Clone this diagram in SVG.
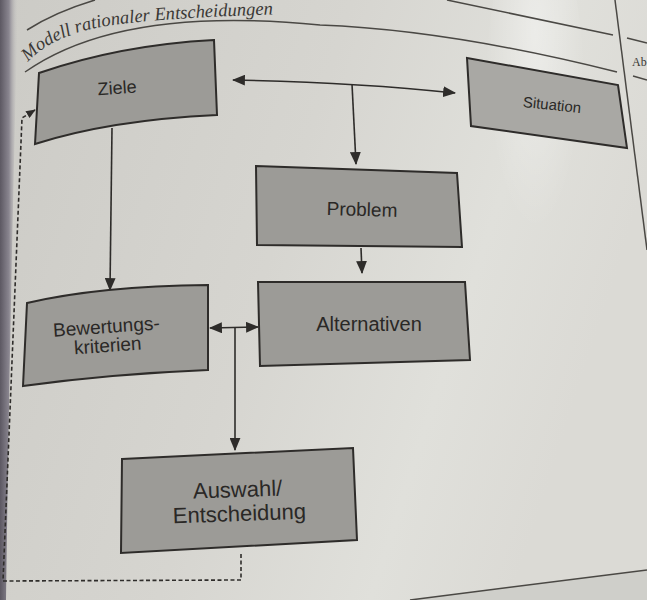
<svg xmlns="http://www.w3.org/2000/svg" width="647" height="600" viewBox="0 0 647 600">
<defs>
<linearGradient id="paper" x1="0" y1="0" x2="1" y2="0.3">
<stop offset="0" stop-color="#cccbc6"/>
<stop offset="0.5" stop-color="#d6d5d0"/>
<stop offset="0.8" stop-color="#e0e0db"/>
<stop offset="1" stop-color="#dbdad5"/>
</linearGradient>
<linearGradient id="edge" x1="0" y1="0" x2="1" y2="0">
<stop offset="0" stop-color="#5c5862"/>
<stop offset="0.5" stop-color="#8a8690"/>
<stop offset="1" stop-color="#c9c8c6" stop-opacity="0"/>
</linearGradient>
<radialGradient id="streak" cx="0.5" cy="0.3" r="0.5">
<stop offset="0" stop-color="#ffffff" stop-opacity="0.4"/>
<stop offset="1" stop-color="#ffffff" stop-opacity="0"/>
</radialGradient>
<marker id="ah" viewBox="0 0 12 10" refX="11" refY="5" markerWidth="13" markerHeight="11" markerUnits="userSpaceOnUse" orient="auto-start-reverse">
<path d="M0,0 L12,5 L0,10 Z" fill="#2e2c2a"/>
</marker>
<marker id="ahs" viewBox="0 0 12 10" refX="11" refY="5" markerWidth="10" markerHeight="8" markerUnits="userSpaceOnUse" orient="auto">
<path d="M0,0 L12,5 L0,10 Z" fill="#2e2c2a"/>
</marker>
</defs>
<style>
.box{fill:#9c9b97;stroke:#2e2c2a;stroke-width:2}
.lbl{font-family:"Liberation Sans",Arial,sans-serif;fill:#2a2826;text-anchor:middle}
.con{fill:none;stroke:#2e2c2a;stroke-width:1.6}
.page{fill:none;stroke:#4a4844;stroke-width:1.5}
</style>
<rect width="647" height="600" fill="url(#paper)"/>
<ellipse cx="535" cy="110" rx="50" ry="200" fill="url(#streak)"/>
<path d="M0,0 L18,0 Q10,300 6,600 L0,600 Z" fill="url(#edge)"/>
<path d="M410,600 L647,570 L647,600 Z" fill="#cfcfca"/>
<g id="page-lines">
<path class="page" d="M27,30 Q55,12 95,0"/>
<path class="page" d="M25,72 Q120,5 320,25 Q450,30 617,72"/>
<path class="page" d="M447,0 L613,35"/>
<path class="page" d="M615,0 L647,250"/>
<path class="page" d="M627,38 L647,43"/>
<path class="page" d="M633,76 L647,80"/>
<path class="page" d="M410,600 L647,570"/>
<path id="tp" d="M28,62 Q55,32 120,24 Q190,16 300,14" fill="none"/>
<text font-family="'Liberation Serif','Times New Roman',serif" font-style="italic" font-size="18.5" fill="#3a3835"><textPath href="#tp">Modell rationaler Entscheidungen</textPath></text>
<text x="632" y="66" font-family="'Liberation Serif',serif" font-size="12" fill="#3a3835">Ab</text>
</g>
<g id="connectors">
<path class="con" d="M233,80 Q352,82 455,93" marker-start="url(#ah)" marker-end="url(#ah)"/>
<path class="con" d="M352,84 L356,164" marker-end="url(#ah)"/>
<path class="con" d="M361,248 L362,273" marker-end="url(#ah)"/>
<path class="con" d="M112,128 L110,290" marker-end="url(#ah)"/>
<path class="con" d="M210,328 L258,327" stroke-width="2.6" marker-start="url(#ah)" marker-end="url(#ah)"/>
<path class="con" d="M235,328 L235,450" marker-end="url(#ah)"/>
<path class="con" d="M241,554 L241,580 L3,581 L22,118 L35,110" stroke-width="1.3" stroke-dasharray="4,2.5" marker-end="url(#ahs)"/>
</g>
<g id="ziele">
<path class="box" d="M39,73 Q120,45 214,40 L217,115 Q110,120 35,144 Z"/>
<text class="lbl" x="117" y="94" font-size="18" transform="rotate(-4 117 88)">Ziele</text>
</g>
<g id="situation">
<path class="box" d="M467,58 L618,85 L627,148 L471,126 Z" style="fill:#a9a8a4"/>
<text class="lbl" x="552" y="110" font-size="15" transform="rotate(6 552 105)">Situation</text>
</g>
<g id="problem">
<path class="box" d="M256,166 L457,173 L462,247 L257,245 Z"/>
<text class="lbl" x="362" y="216" font-size="19" transform="rotate(1.5 362 210)">Problem</text>
</g>
<g id="alternativen">
<path class="box" d="M258,282 L465,282 L470,360 L260,366 Z"/>
<text class="lbl" x="369" y="331" font-size="20">Alternativen</text>
</g>
<g id="bewertungskriterien">
<path class="box" d="M27,303 Q100,286 208,285 L208,370 Q110,374 23,386 Z"/>
<text class="lbl" font-size="19" transform="rotate(-4 107 336)"><tspan x="107" y="333">Bewertungs-</tspan><tspan x="107" y="352">kriterien</tspan></text>
</g>
<g id="auswahl">
<path class="box" d="M122,459 L353,448 L357,540 L121,553 Z"/>
<text class="lbl" font-size="22" transform="rotate(-2 239 502)"><tspan x="238" y="497">Auswahl/</tspan><tspan x="239" y="521">Entscheidung</tspan></text>
</g>
</svg>
